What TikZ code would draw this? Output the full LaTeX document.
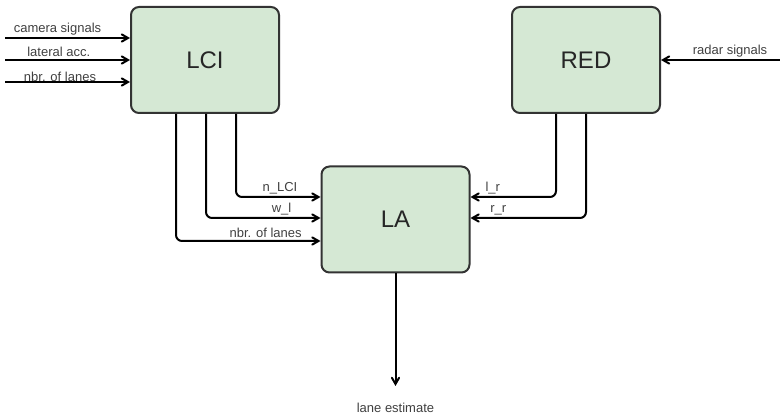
\documentclass[tikz,border=0pt]{standalone}
\usepackage{fontspec}
\setmainfont{Liberation Sans}
\usetikzlibrary{arrows}
\definecolor{boxfill}{HTML}{D5E8D4}
\definecolor{boxline}{HTML}{333333}
\begin{document}
\begin{tikzpicture}[->,>=angle 60,x=1pt,y=-1pt,line width=2pt,
                    block/.style={rectangle,rounded corners=8pt,draw=boxline,fill=boxfill,
                      line width=2pt,minimum width=148pt,minimum height=106pt,
                      font=\fontsize{24}{28}\selectfont,text=black!85},
                    sig/.style={font=\fontsize{13}{15}\selectfont,text=black!75,inner sep=2pt}]

  \useasboundingbox (0,0) rectangle (780,414);

  \node[block] (LCI) at (205,60) {LCI};
  \node[block] (RED) at (586,60) {RED};
  \node[block] (LA) at (395.5,219.5) {LA};

  \coordinate (cam) at (5,38);
  \coordinate (lat) at (5,60);
  \coordinate (nbr) at (5,82);
  \coordinate (radar) at (780,60);
  \coordinate (est) at (395.5,386);

  % inputs
  \draw (cam) -- node[sig,above,pos=0.42] {camera signals} (LCI.west |- cam);
  \draw (lat) -- node[sig,above,pos=0.43] {lateral acc.} (LCI.west |- lat);
  \draw (nbr) -- node[sig,anchor=base,pos=0.44] {nbr. of lanes} (LCI.west |- nbr);
  \draw (radar) -- node[sig,above,pos=0.42] {radar signals} (RED.east);

  % LCI to LA
  \draw[rounded corners=6pt] ([xshift=31pt]LCI.south) |- node[sig,above,pos=0.76] {n\_LCI} ([yshift=22.5pt]LA.west);
  \draw[rounded corners=6pt] ([xshift=1pt]LCI.south) |- node[sig,above,pos=0.83] {w\_l} ([yshift=1.5pt]LA.west);
  \draw[rounded corners=6pt] ([xshift=-29pt]LCI.south) |- node[sig,above,pos=0.81] {nbr. of lanes} ([yshift=-21.5pt]LA.west);

  % RED to LA
  \draw[rounded corners=6pt] ([xshift=-30pt]RED.south) |- node[sig,above,pos=0.87] {l\_r} ([yshift=22.5pt]LA.east);
  \draw[rounded corners=6pt] (RED.south) |- node[sig,above,pos=0.88] {r\_r} ([yshift=1.5pt]LA.east);

  \draw (LA) -- (est) node[sig,below=14pt] {lane estimate};
\end{tikzpicture}
\end{document}
